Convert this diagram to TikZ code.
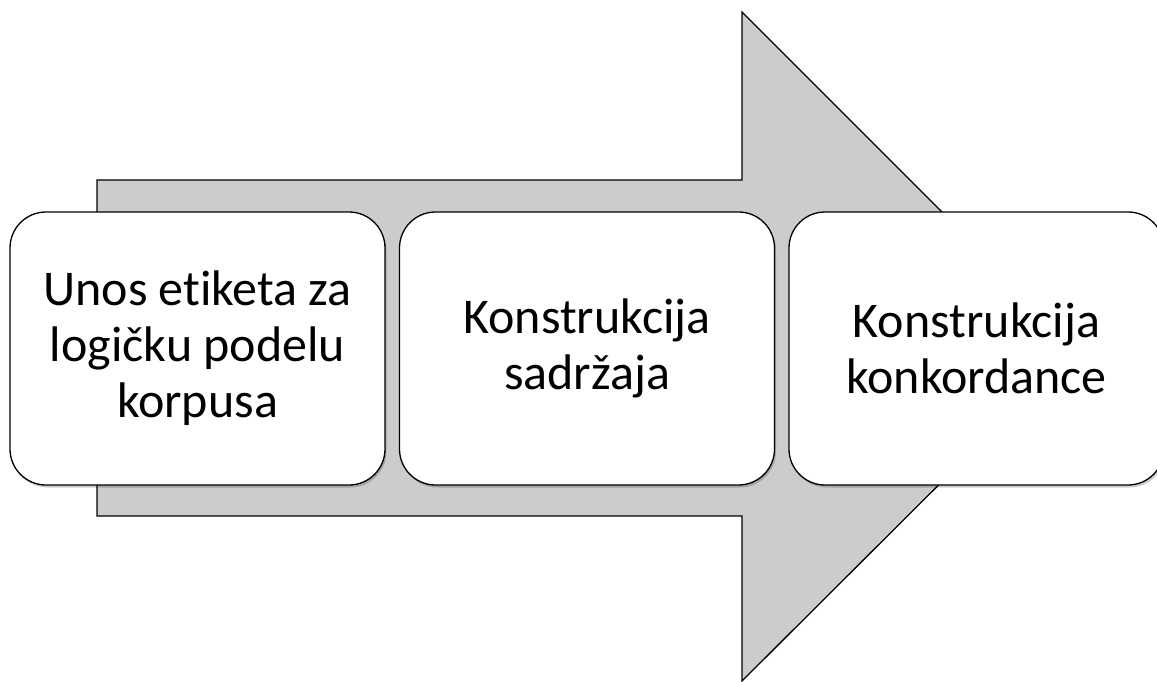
\documentclass[tikz,border=0pt]{standalone}
\usepackage{fontspec}
\setmainfont{Carlito}[Ligatures=NoCommon]
\usetikzlibrary{shadows}
\definecolor{arrowgray}{HTML}{CCCCCC}
\tikzset{
  arrowshape/.style={draw=black, line width=1.3pt, fill=arrowgray, line join=miter},
  stepbox/.style={draw=black, line width=1.3pt, fill=white, rounded corners=36pt,
    minimum width=375pt, minimum height=273pt, align=center, inner sep=0pt,
    font=\fontsize{50}{56}\selectfont,
    drop shadow={shadow xshift=1.5pt, shadow yshift=-2.5pt, opacity=0.2, fill=black}}
}
\begin{document}
\begin{tikzpicture}[x=1pt,y=-1pt]
\useasboundingbox (0,0) rectangle (1157,682);
\draw[arrowshape] (97,180) -- (742,180) -- (742,12) -- (1077,347) -- (742,681) -- (742,516) -- (97,516) -- cycle;
\node[stepbox] (b1) at (197.5,348.5) {Unos etiketa za\\logičku podelu\\korpusa};
\node[stepbox] (b2) at (587,348.5) {Konstrukcija\\sadržaja};
\node[stepbox] (b3) at (976.5,348.5) {Konstrukcija\\konkordance};
\end{tikzpicture}
\end{document}
